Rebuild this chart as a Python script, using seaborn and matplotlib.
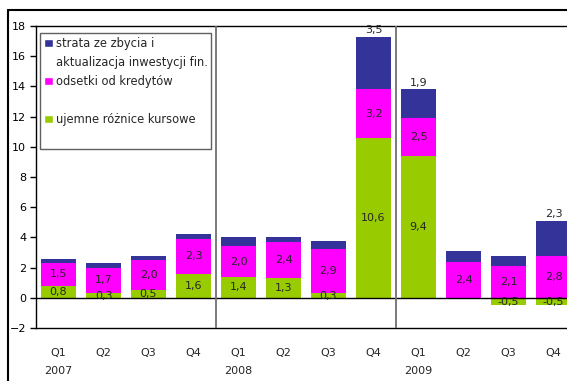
import pandas as pd
import matplotlib
matplotlib.use("Agg")
import matplotlib.pyplot as plt
import matplotlib.transforms as mtransforms
from matplotlib.patches import Patch
from matplotlib.lines import Line2D
import seaborn as sns

# dane (mld zł)
years = ["2007", "2008", "2009"]
quarters = ["Q1", "Q2", "Q3", "Q4"]
periods = [f"{y} {q}" for y in years for q in quarters]
fx_loss = [0.8, 0.3, 0.5, 1.6, 1.4, 1.3, 0.3, 10.6, 9.4, 0.0, -0.5, -0.5]
interest = [1.5, 1.7, 2.0, 2.3, 2.0, 2.4, 2.9, 3.2, 2.5, 2.4, 2.1, 2.8]
invest_loss = [0.25, 0.3, 0.3, 0.35, 0.65, 0.3, 0.55, 3.5, 1.9, 0.7, 0.7, 2.3]

legend_labels = ["strata ze zbycia i", "aktualizacja inwestycji fin.",
                 "odsetki od kredytów", "", "ujemne różnice kursowe", ""]

c_blue, c_pink, c_green = "#333399", "#ff00ff", "#99cc00"

df = pd.DataFrame({"okres": periods, "fx": fx_loss,
                   "interest": interest, "invest": invest_loss})
df["fx_pos"] = df["fx"].clip(lower=0)
df["h_pink"] = df["fx_pos"] + df["interest"]
df["h_blue"] = df["h_pink"] + df["invest"]

sns.set_style("white")
plt.rcParams["font.family"] = ["DejaVu Sans"]

fig = plt.figure(figsize=(5.67, 3.81), dpi=100)
ax = fig.add_axes([36 / 567, 1 - 328 / 381, 540 / 567, 302 / 381])

# skumulowane słupki - rysowane od największej sumy
for col, c in [("h_blue", c_blue), ("h_pink", c_pink), ("fx", c_green)]:
    sns.barplot(data=df, x="okres", y=col, order=periods, color=c,
                saturation=1, width=0.78, errorbar=None, linewidth=0, ax=ax)

ax.set_ylim(-2, 18)
ax.set_xlim(-0.5, 11.5)
ax.set_yticks(range(-2, 19, 2))
ax.set_xticks(range(len(periods)))
ax.set_xticklabels(quarters * 3)
ax.set_xlabel("")
ax.set_ylabel("")
ax.tick_params(axis="y", left=True, length=4, width=1, labelsize=8, pad=3, colors="black")
ax.tick_params(axis="x", bottom=False, labelsize=8, pad=11)

for s in ["left", "top", "bottom"]:
    ax.spines[s].set_visible(True)
    ax.spines[s].set_color("black")
    ax.spines[s].set_linewidth(1)
ax.spines["right"].set_visible(False)

ax.axhline(0, color="black", lw=1, zorder=3)
for xv in [3.5, 7.5]:
    ax.axvline(xv, color="#707070", lw=1.3, zorder=3)

# etykiety wartości
fmt = lambda v: f"{v:.1f}".replace(".", ",")
for i, row in df.iterrows():
    ax.text(i, row["fx_pos"] + row["interest"] / 2, fmt(row["interest"]),
            ha="center", va="center", fontsize=8, zorder=4)
    if row["fx"] != 0:
        ax.text(i, row["fx"] / 2, fmt(row["fx"]),
                ha="center", va="center", fontsize=8, zorder=4)
    if row["invest"] > 1:
        ax.text(i, row["h_blue"] + 0.1, fmt(row["invest"]),
                ha="center", va="bottom", fontsize=8, zorder=4)

# lata pod kwartałami Q1
trans = mtransforms.blended_transform_factory(ax.transData, ax.transAxes)
for k, y in enumerate(years):
    ax.text(k * 4, -43 / 302, y, transform=trans, ha="center", va="center", fontsize=8)

# legenda
blank = Patch(facecolor="none", edgecolor="none")
handles = [Patch(facecolor=c_blue), blank, Patch(facecolor=c_pink), blank,
           Patch(facecolor=c_green), blank]
leg = ax.legend(handles, legend_labels, loc="upper left",
                bbox_to_anchor=(4 / 540, 1 - 7 / 302), borderaxespad=0,
                fontsize=8.3, frameon=True, fancybox=False, framealpha=1,
                handlelength=0.75, handleheight=0.75, handletextpad=0.25,
                labelspacing=0.52, borderpad=0.35)
leg.get_frame().set_edgecolor("#606060")
leg.get_frame().set_linewidth(1)

# ramka zewnętrzna
fig.add_artist(Line2D([8 / 567, 1], [1 - 10 / 381] * 2, transform=fig.transFigure,
                      color="black", lw=1.5))
fig.add_artist(Line2D([8 / 567] * 2, [0, 1 - 10 / 381], transform=fig.transFigure,
                      color="black", lw=1.5))

fig.savefig("out.png", dpi=100)
